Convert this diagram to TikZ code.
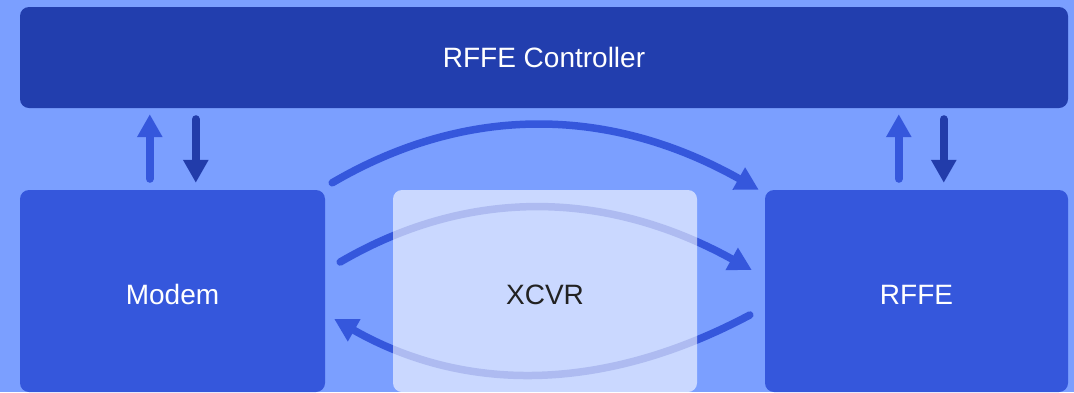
\documentclass[tikz,border=0pt]{standalone}
\usepackage{fontspec}
\setmainfont{Liberation Sans}
\usetikzlibrary{arrows.meta,calc}
\definecolor{bgc}{RGB}{123,159,255}
\definecolor{ctrlc}{RGB}{34,62,174}
\definecolor{boxc}{RGB}{53,87,220}
\definecolor{downc}{RGB}{34,60,170}
\definecolor{darktext}{RGB}{34,34,34}
\begin{document}
\begin{tikzpicture}[x=1pt,y=-1pt,
  box/.style={rounded corners=9pt, inner sep=0pt, text=white,
    font=\fontsize{28}{34}\selectfont},
  lowbox/.style={box, minimum height=202pt, text height=26pt, text depth=0pt},
  arr/.style={line width=8pt, line cap=round, -{Triangle[length=23pt,width=24pt]}},
  carr/.style={line width=7.5pt, line cap=round, draw=boxc, -{Triangle[length=23pt,width=24pt]}}]
\fill[bgc] (0,0) rectangle (1074,392);
\useasboundingbox (0,0) rectangle (1074,392);

\node[box, fill=ctrlc, minimum width=1048pt, minimum height=101pt] (ctrl) at (544,57.5) {RFFE Controller};
\node[lowbox, fill=boxc, minimum width=305pt] (modem) at (172.5,291) {Modem};
\node[lowbox, fill=boxc, minimum width=303pt] (rffe) at (916.5,291) {RFFE};

% vertical arrows
\draw[arr, boxc] ($(modem.north west)+(130,-11)$) -- ($(ctrl.south west)+(130,6)$);
\draw[arr, downc] ($(ctrl.south west)+(176,11)$) -- ($(modem.north west)+(176,-7)$);
\draw[arr, boxc] ($(rffe.north west)+(134,-11)$) -- ($(ctrl.south west)+(879,6)$);
\draw[arr, downc] ($(ctrl.south west)+(924,11)$) -- ($(rffe.north west)+(179,-7)$);

% curved arrows
\coordinate (t0) at ($(modem.north east)+(7,-7)$);
\coordinate (t1) at ($(rffe.north west)+(-6,0)$);
\coordinate (m0) at ($(modem.east)+(15,-29)$);
\coordinate (m1) at ($(rffe.west)+(-13,-21)$);
\coordinate (b0) at ($(rffe.west)+(-15,24)$);
\coordinate (b1) at ($(modem.east)+(9,28)$);
\draw[carr] (t0) .. controls (467,104) and (610,106) .. (t1);
\draw[carr] (m0) .. controls (469,187) and (607,190) .. (m1);
\draw[carr] (b0) .. controls (605,392) and (466,394) .. (b1);

% XCVR translucent box
\node[lowbox, fill=white, fill opacity=0.6, text opacity=1, text=darktext,
  minimum width=304pt] (xcvr) at (545,291) {XCVR};
\end{tikzpicture}
\end{document}
